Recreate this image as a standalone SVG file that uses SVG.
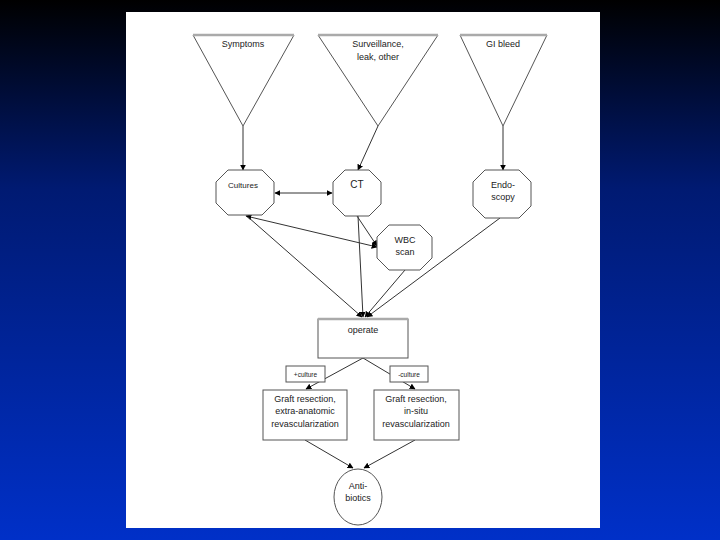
<svg xmlns="http://www.w3.org/2000/svg" width="720" height="540" viewBox="0 0 720 540">
<defs>
<linearGradient id="bg" x1="0" y1="0" x2="0" y2="1">
<stop offset="0" stop-color="#000000"/>
<stop offset="0.35" stop-color="#001a72"/>
<stop offset="1" stop-color="#0030c8"/>
</linearGradient>
<marker id="ah" viewBox="0 0 10 10" refX="9" refY="5" markerWidth="6" markerHeight="6" markerUnits="userSpaceOnUse" orient="auto-start-reverse">
<path d="M0,0 L10,5 L0,10 z" fill="#000"/>
</marker>
<style>
.sh{fill:#fff;stroke:#555;stroke-width:1}
.top{stroke:#aaa;stroke-width:2.5}
.cn{fill:none;stroke:#333;stroke-width:1}
.t{font-family:"Liberation Sans",Arial,sans-serif;fill:#222;text-anchor:middle}
.s9{font-size:9px}
.s10{font-size:10px}
.s7{font-size:6.5px}
</style>
</defs>
<rect width="720" height="540" fill="url(#bg)"/>
<rect x="126" y="12" width="474" height="516" fill="#fff"/>

<g id="connectors">
<line class="cn" x1="243" y1="126" x2="243" y2="170" marker-end="url(#ah)"/>
<line class="cn" x1="378" y1="126" x2="358" y2="170" marker-end="url(#ah)"/>
<line class="cn" x1="503" y1="126" x2="503" y2="170" marker-end="url(#ah)"/>
<line class="cn" x1="275" y1="193" x2="332" y2="193" marker-start="url(#ah)" marker-end="url(#ah)"/>
<line class="cn" x1="246" y1="216" x2="377" y2="247" marker-start="url(#ah)" marker-end="url(#ah)"/>
<line class="cn" x1="357" y1="216" x2="377" y2="246" marker-end="url(#ah)"/>
<line class="cn" x1="248" y1="217" x2="362" y2="317" marker-end="url(#ah)"/>
<line class="cn" x1="358" y1="216" x2="363" y2="317" marker-end="url(#ah)"/>
<line class="cn" x1="405" y1="270" x2="365" y2="317" marker-end="url(#ah)"/>
<line class="cn" x1="500" y1="218" x2="367" y2="317" marker-end="url(#ah)"/>
<line class="cn" x1="363" y1="358" x2="306" y2="389" marker-end="url(#ah)"/>
<line class="cn" x1="363" y1="358" x2="415" y2="389" marker-end="url(#ah)"/>
<line class="cn" x1="305" y1="440" x2="353" y2="468" marker-end="url(#ah)"/>
<line class="cn" x1="415" y1="440" x2="364" y2="468" marker-end="url(#ah)"/>
</g>

<g id="symptoms">
<polygon class="sh" points="193,35 294,35 243,126"/>
<line class="top" x1="193" y1="35" x2="294" y2="35"/>
<text class="t s9" x="243" y="47">Symptoms</text>
</g>
<g id="surveillance">
<polygon class="sh" points="318,35 438,35 378,126"/>
<line class="top" x1="318" y1="35" x2="438" y2="35"/>
<text class="t s9" x="378" y="47">Surveillance,</text>
<text class="t s9" x="378" y="60">leak, other</text>
</g>
<g id="gibleed">
<polygon class="sh" points="460,35 547,35 503,126"/>
<line class="top" x1="460" y1="35" x2="547" y2="35"/>
<text class="t s9" x="503" y="47">GI bleed</text>
</g>

<g id="cultures">
<polygon class="sh" points="228,170 262,170 274,182 274,203 262,215 228,215 216,203 216,182"/>
<text class="t" style="font-size:8px" x="243" y="188">Cultures</text>
</g>
<g id="ct">
<polygon class="sh" points="345,170 369,170 381,182 381,204 369,216 345,216 333,204 333,182"/>
<text class="t s10" x="357" y="188">CT</text>
</g>
<g id="wbc">
<polygon class="sh" points="389,225 420,225 432,237 432,258 420,270 389,270 377,258 377,237"/>
<text class="t s9" x="405" y="243">WBC</text>
<text class="t s9" x="405" y="255">scan</text>
</g>
<g id="endoscopy">
<polygon class="sh" points="485,170 519,170 531,182 531,206 519,218 485,218 473,206 473,182"/>
<text class="t s9" x="503" y="188">Endo-</text>
<text class="t s9" x="503" y="200">scopy</text>
</g>

<g id="operate">
<rect class="sh" x="318" y="319" width="90" height="39"/>
<line class="top" x1="318" y1="319" x2="408" y2="319"/>
<text class="t s9" x="363" y="333">operate</text>
</g>

<g id="plus-culture">
<rect class="sh" x="286" y="366" width="39" height="16"/>
<text class="t s7" x="305.5" y="376.5">+culture</text>
</g>
<g id="minus-culture">
<rect class="sh" x="390" y="366" width="38" height="16"/>
<text class="t s7" x="409" y="376.5">-culture</text>
</g>

<g id="graft-extra">
<rect class="sh" x="263" y="390" width="84" height="50"/>
<text class="t s9" x="305" y="402">Graft resection,</text>
<text class="t s9" x="305" y="414">extra-anatomic</text>
<text class="t s9" x="305" y="427">revascularization</text>
</g>
<g id="graft-insitu">
<rect class="sh" x="374" y="390" width="85" height="50"/>
<text class="t s9" x="416" y="402">Graft resection,</text>
<text class="t s9" x="416" y="414">in-situ</text>
<text class="t s9" x="416" y="427">revascularization</text>
</g>

<g id="antibiotics">
<ellipse class="sh" cx="358" cy="497" rx="24" ry="28"/>
<text class="t s9" x="358" y="489">Anti-</text>
<text class="t s9" x="358" y="501">biotics</text>
</g>
</svg>
